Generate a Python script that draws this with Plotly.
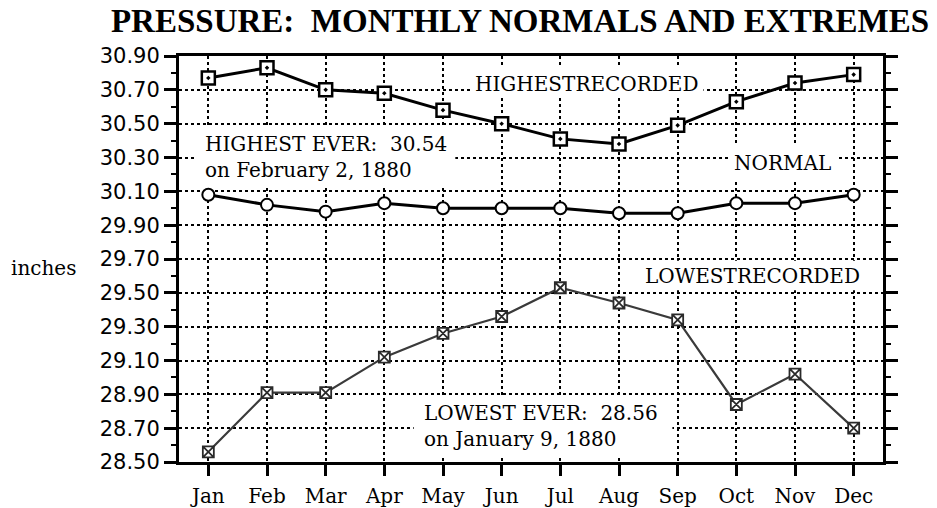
import plotly.graph_objects as go

# Monthly station pressure, inches of mercury
months = ["Jan", "Feb", "Mar", "Apr", "May", "Jun",
          "Jul", "Aug", "Sep", "Oct", "Nov", "Dec"]
highest_recorded = [30.77, 30.83, 30.70, 30.68, 30.58, 30.50,
                    30.41, 30.38, 30.49, 30.63, 30.74, 30.79]
normal = [30.08, 30.02, 29.98, 30.03, 30.00, 30.00,
          30.00, 29.97, 29.97, 30.03, 30.03, 30.08]
lowest_recorded = [28.56, 28.91, 28.91, 29.12, 29.26, 29.36,
                   29.53, 29.44, 29.34, 28.84, 29.02, 28.70]
y_ticks = [28.50, 28.70, 28.90, 29.10, 29.30, 29.50, 29.70,
           29.90, 30.10, 30.30, 30.50, 30.70, 30.90]

idx = list(range(len(months)))
SERIF = "DejaVu Serif"
SANS = "DejaVu Sans"
NB = "\u00a0"

fig = go.Figure()

fig.add_trace(go.Scatter(
    x=idx, y=lowest_recorded, mode="lines+markers", name="Lowest recorded",
    line=dict(color="#3a3a3a", width=2.2),
    marker=dict(symbol="square-x", size=11, color="white",
                line=dict(color="#2a2a2a", width=1.8)),
))
fig.add_trace(go.Scatter(
    x=idx, y=normal, mode="lines+markers", name="Normal",
    line=dict(color="black", width=3),
    marker=dict(symbol="circle", size=12, color="white",
                line=dict(color="black", width=2)),
))
fig.add_trace(go.Scatter(
    x=idx, y=highest_recorded, mode="lines+markers", name="Highest recorded",
    line=dict(color="black", width=3),
    marker=dict(symbol="square-dot", size=13, color="white",
                line=dict(color="black", width=2.5)),
))

# white panels behind the labels interrupt the dotted grid
panels = [
    (4.47, 8.44, 30.652, 30.829),
    (8.90, 10.75, 30.167, 30.386),
    (-0.20, 4.21, 30.137, 30.480),
    (7.30, 11.25, 29.515, 29.690),
    (3.50, 7.91, 28.541, 28.890),
]
for x0, x1, y0, y1 in panels:
    fig.add_shape(type="rect", xref="x", yref="y", x0=x0, x1=x1, y0=y0, y1=y1,
                  fillcolor="white", line=dict(width=0), layer="between")

label_font = dict(family=SERIF, size=20, color="black")
fig.add_annotation(x=6.45, y=30.735, text="HIGHESTRECORDED", showarrow=False,
                   font=label_font, xanchor="center", yanchor="middle")
fig.add_annotation(x=9.79, y=30.265, text="NORMAL", showarrow=False,
                   font=label_font, xanchor="center", yanchor="middle")
fig.add_annotation(x=9.28, y=29.60, text="LOWESTRECORDED", showarrow=False,
                   font=label_font, xanchor="center", yanchor="middle")
fig.add_annotation(x=-0.09, y=30.305,
                   text=f"HIGHEST EVER:{NB} 30.54<br>on February 2, 1880",
                   showarrow=False, font=label_font, align="left",
                   xanchor="left", yanchor="middle")
fig.add_annotation(x=3.65, y=28.71,
                   text=f"LOWEST EVER:{NB} 28.56<br>on January 9, 1880",
                   showarrow=False, font=label_font, align="left",
                   xanchor="left", yanchor="middle")
fig.add_annotation(xref="paper", yref="paper", x=-0.192, y=0.478,
                   text="inches", showarrow=False, font=label_font,
                   xanchor="center", yanchor="middle")

fig.update_layout(
    width=937, height=508,
    margin=dict(l=179, r=54, t=56, b=46),
    paper_bgcolor="white", plot_bgcolor="white",
    showlegend=False,
    title=dict(text=f"<b>PRESSURE:{NB} MONTHLY NORMALS AND EXTREMES</b>",
               font=dict(family="Liberation Serif", size=33, color="black"),
               x=520 / 937, xref="container", xanchor="center",
               y=1 - 20 / 508, yref="container", yanchor="middle"),
)

fig.update_xaxes(
    range=[-0.5, 11.5], tickmode="array", tickvals=idx, ticktext=months,
    tickfont=dict(family=SERIF, size=20, color="black"),
    ticks="outside", ticklen=11, tickwidth=2.5, tickcolor="black",
    ticklabelstandoff=3, automargin=False,
    showline=True, linewidth=3, linecolor="black", mirror=True,
    showgrid=True, gridcolor="black", gridwidth=1.5, griddash="dot",
    zeroline=False, fixedrange=True,
)
fig.update_yaxes(
    range=[28.50, 30.90], tickmode="array", tickvals=y_ticks,
    ticktext=[f"{v:.2f}" for v in y_ticks],
    tickfont=dict(family=SANS, size=21, color="black"),
    ticks="outside", ticklen=12, tickwidth=2.5, tickcolor="black",
    automargin=False,
    showline=True, linewidth=3, linecolor="black", mirror="allticks",
    showgrid=True, gridcolor="black", gridwidth=1.5, griddash="dot",
    minor=dict(dtick=0.1, tick0=28.5, ticks="outside", ticklen=5,
               tickwidth=2, tickcolor="black", showgrid=False),
    zeroline=False, fixedrange=True,
)

fig.write_html("out.html")
